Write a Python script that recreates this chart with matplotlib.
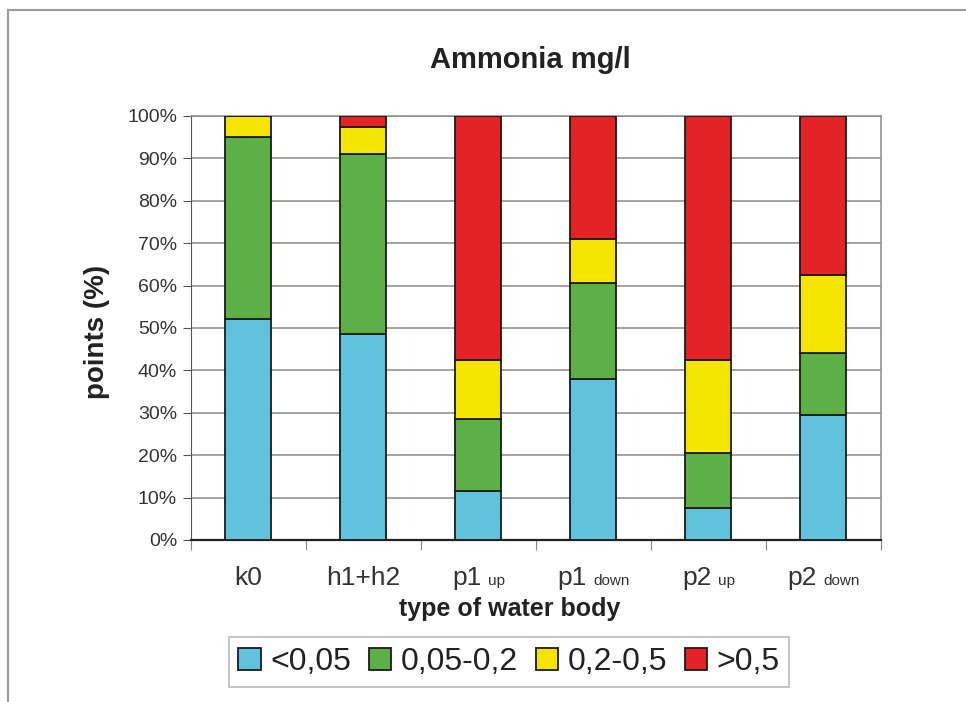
import matplotlib.pyplot as plt
import numpy as np
from matplotlib.offsetbox import AnnotationBbox, HPacker, TextArea
from matplotlib.patches import Rectangle
from matplotlib.ticker import PercentFormatter

plt.rcParams["font.family"] = ["Liberation Sans", "DejaVu Sans"]

# water body types: main label + small suffix
categories = ["k0", "h1+h2", "p1", "p1", "p2", "p2"]
suffixes = ["", "", "up", "down", "up", "down"]

classes = ["<0,05", "0,05-0,2", "0,2-0,5", ">0,5"]
colors = ["#62c2dc", "#5db045", "#f4e400", "#e42424"]

# share of points (%) per class, bottom to top
lt_005 = [52.0, 48.5, 11.5, 38.0, 7.5, 29.5]
r005_02 = [43.0, 42.5, 17.0, 22.5, 13.0, 14.5]
r02_05 = [5.0, 6.5, 14.0, 10.5, 22.0, 18.5]
gt_05 = [0.0, 2.5, 57.5, 29.0, 57.5, 37.5]
series = [lt_005, r005_02, r02_05, gt_05]

fig = plt.figure(figsize=(9.66, 7.02), dpi=100)
ax = fig.add_axes([0.1977, 0.2308, 0.7143, 0.604])

x = np.arange(len(categories))
bottom = np.zeros(len(categories))
handles = []
for vals, col, lab in zip(series, colors, classes):
    bars = ax.bar(x, vals, width=0.4, bottom=bottom, color=col,
                  edgecolor="#1a1a1a", linewidth=1.3, label=lab, zorder=3)
    handles.append(bars)
    bottom += np.array(vals)

ax.set_xlim(-0.5, len(categories) - 0.5)
ax.set_ylim(0, 100)
ax.set_yticks(np.arange(0, 101, 10))
ax.yaxis.set_major_formatter(PercentFormatter(decimals=0))
ax.tick_params(axis="y", labelsize=14, length=6, color="#555555", pad=4,
               labelcolor="#333333")
ax.yaxis.grid(True, color="#8a8a8a", linewidth=1.1, zorder=0)

# x ticks at category boundaries, labels placed manually
ax.set_xticks(np.arange(-0.5, len(categories), 1.0))
ax.set_xticklabels([])
ax.tick_params(axis="x", length=7, color="#888888", direction="out")

for i, (main, suf) in enumerate(zip(categories, suffixes)):
    parts = [TextArea(main, textprops=dict(fontsize=19, color="#333333"))]
    if suf:
        parts.append(TextArea(suf, textprops=dict(fontsize=11, color="#333333")))
    box = HPacker(children=parts, align="baseline", pad=0, sep=5)
    ab = AnnotationBbox(box, (i, 0), xycoords=ax.get_xaxis_transform(),
                        xybox=(0, -27.5), boxcoords="offset points",
                        box_alignment=(0.5, 0.5), frameon=False)
    ax.add_artist(ab)

for side in ["top", "right"]:
    ax.spines[side].set_color("#8a8a8a")
    ax.spines[side].set_linewidth(1.1)
ax.spines["left"].set_color("#555555")
ax.spines["bottom"].set_color("#222222")
ax.spines["bottom"].set_linewidth(1.6)

fig.text(0.549, 0.915, "Ammonia mg/l", ha="center", va="center",
         fontsize=21, fontweight="bold", color="#222222")
fig.text(0.1, 0.527, "points (%)", rotation=90, ha="center", va="center",
         fontsize=20, fontweight="bold", color="#222222")
fig.text(0.528, 0.133, "type of water body", ha="center", va="center",
         fontsize=18, fontweight="bold", color="#222222")

leg = fig.legend(handles=handles, labels=classes, loc="center",
                 bbox_to_anchor=(0.527, 0.057), ncol=4, fontsize=23,
                 frameon=True, fancybox=False, edgecolor="#aaaaaa",
                 handlelength=0.7, handleheight=0.7, handletextpad=0.3,
                 columnspacing=0.55, borderpad=0.3, borderaxespad=0)
leg.get_frame().set_linewidth(1.2)
for t in leg.get_texts():
    t.set_color("#222222")

# outer chart frame
fig.add_artist(Rectangle((0.008, -0.01), 1.1, 0.996, transform=fig.transFigure,
                         fill=False, edgecolor="#999999", linewidth=1.5))

fig.savefig("out.png", dpi=100)
